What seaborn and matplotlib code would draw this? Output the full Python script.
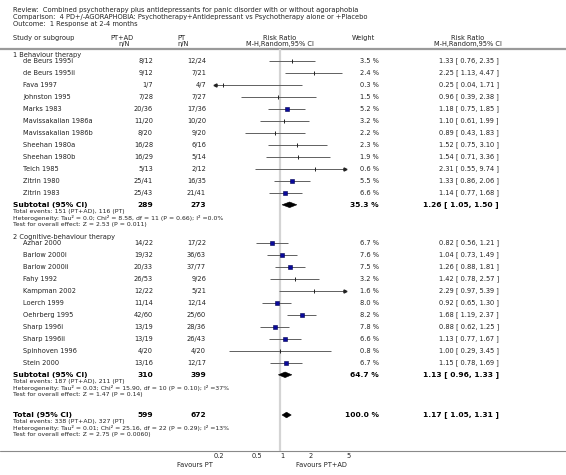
import matplotlib
matplotlib.use("Agg")
import matplotlib.pyplot as plt
import seaborn as sns
import numpy as np
import pandas as pd

## --- data
title_lines = [
    "Review:  Combined psychotherapy plus antidepressants for panic disorder with or without agoraphobia",
    "Comparison:  4 PD+/-AGORAPHOBIA: Psychotherapy+Antidepressant vs Psychotherapy alone or +Placebo",
    "Outcome:  1 Response at 2-4 months",
]

group_names = ["1 Behaviour therapy", "2 Cognitive-behaviour therapy"]

studies_1 = ["de Beurs 1995i", "de Beurs 1995ii", "Fava 1997", "Johnston 1995", "Marks 1983",
             "Mavissakalian 1986a", "Mavissakalian 1986b", "Sheehan 1980a", "Sheehan 1980b",
             "Teich 1985", "Zitrin 1980", "Zitrin 1983"]
trt_1 = ["8/12", "9/12", "1/7", "7/28", "20/36", "11/20", "8/20", "16/28", "16/29", "5/13", "25/41", "25/43"]
ctl_1 = ["12/24", "7/21", "4/7", "7/27", "17/36", "10/20", "9/20", "6/16", "5/14", "2/12", "16/35", "21/41"]
weight_1 = [3.5, 2.4, 0.3, 1.5, 5.2, 3.2, 2.2, 2.3, 1.9, 0.6, 5.5, 6.6]
rr_1 = [1.33, 2.25, 0.25, 0.96, 1.18, 1.10, 0.89, 1.52, 1.54, 2.31, 1.33, 1.14]
lo_1 = [0.76, 1.13, 0.04, 0.39, 0.75, 0.61, 0.43, 0.75, 0.71, 0.55, 0.86, 0.77]
hi_1 = [2.35, 4.47, 1.71, 2.38, 1.85, 1.99, 1.83, 3.10, 3.36, 9.74, 2.06, 1.68]

studies_2 = ["Azhar 2000", "Barlow 2000i", "Barlow 2000ii", "Fahy 1992", "Kampman 2002", "Loerch 1999",
             "Oehrberg 1995", "Sharp 1996i", "Sharp 1996ii", "Spinhoven 1996", "Stein 2000"]
trt_2 = ["14/22", "19/32", "20/33", "26/53", "12/22", "11/14", "42/60", "13/19", "13/19", "4/20", "13/16"]
ctl_2 = ["17/22", "36/63", "37/77", "9/26", "5/21", "12/14", "25/60", "28/36", "26/43", "4/20", "12/17"]
weight_2 = [6.7, 7.6, 7.5, 3.2, 1.6, 8.0, 8.2, 7.8, 6.6, 0.8, 6.7]
rr_2 = [0.82, 1.04, 1.26, 1.42, 2.29, 0.92, 1.68, 0.88, 1.13, 1.00, 1.15]
lo_2 = [0.56, 0.73, 0.88, 0.78, 0.97, 0.65, 1.19, 0.62, 0.77, 0.29, 0.78]
hi_2 = [1.21, 1.49, 1.81, 2.57, 5.39, 1.30, 2.37, 1.25, 1.67, 3.45, 1.69]

# subtotal 1, subtotal 2, overall
pooled_label = ["Subtotal (95% CI)", "Subtotal (95% CI)", "Total (95% CI)"]
pooled_trt = ["289", "310", "599"]
pooled_ctl = ["273", "399", "672"]
pooled_weight = [35.3, 64.7, 100.0]
pooled_rr = [1.26, 1.13, 1.17]
pooled_lo = [1.05, 0.96, 1.05]
pooled_hi = [1.50, 1.33, 1.31]
pooled_notes = [
    ["Total events: 151 (PT+AD), 116 (PT)",
     "Heterogeneity: Tau\u00b2 = 0.0; Chi\u00b2 = 8.58, df = 11 (P = 0.66); I\u00b2 =0.0%",
     "Test for overall effect: Z = 2.53 (P = 0.011)"],
    ["Total events: 187 (PT+AD), 211 (PT)",
     "Heterogeneity: Tau\u00b2 = 0.03; Chi\u00b2 = 15.90, df = 10 (P = 0.10); I\u00b2 =37%",
     "Test for overall effect: Z = 1.47 (P = 0.14)"],
    ["Total events: 338 (PT+AD), 327 (PT)",
     "Heterogeneity: Tau\u00b2 = 0.01; Chi\u00b2 = 25.16, df = 22 (P = 0.29); I\u00b2 =13%",
     "Test for overall effect: Z = 2.75 (P = 0.0060)"],
]

x_ticks = [0.2, 0.5, 1, 2, 5]
x_ticklabels = ["0.2", "0.5", "1", "2", "5"]

## --- layout (pixels, y down)
W, H = 566, 475
ROW = 12.0
X_LO, X_HI = 0.2, 5.0
PX_LO, PX_HI = 213.5, 346.6
AXIS_Y = 451
TXT = "#222222"
FS = 4.8
FSB = 5.4

sns.set_style("white")
plt.rcParams['font.family'] = ['DejaVu Sans']

fig = plt.figure(figsize=(W / 100, H / 100), dpi=100)
ax_t = fig.add_axes([0, 0, 1, 1])
ax_t.set_xlim(0, W)
ax_t.set_ylim(H, 0)
ax_t.axis("off")

ax_f = fig.add_axes([PX_LO / W, (H - AXIS_Y) / H, (PX_HI - PX_LO) / W, AXIS_Y / H])
ax_f.set_xscale("log")
ax_f.set_xlim(X_LO, X_HI)
ax_f.set_ylim(AXIS_Y, 0)
ax_f.patch.set_alpha(0)
for s in ["top", "left", "right", "bottom"]:
    ax_f.spines[s].set_visible(False)
ax_f.set_yticks([])
ax_f.set_xticks(x_ticks)
ax_f.set_xticklabels(x_ticklabels)
ax_f.xaxis.set_minor_locator(matplotlib.ticker.NullLocator())
ax_f.tick_params(axis="x", direction="in", length=3, width=0.6, color="#555555",
                 labelsize=FS, labelcolor=TXT, pad=1.5)
for lbl in ax_f.get_xticklabels():
    lbl.set_ha("left")

# header
for i, line in enumerate(title_lines):
    ax_t.text(13, 10 + i * 6.8, line, fontsize=FS, color=TXT, va="center")
ax_t.text(13, 38, "Study or subgroup", fontsize=FS, color=TXT, va="center")
ax_t.text(110, 38, "PT+AD", fontsize=FS, color=TXT, va="center")
ax_t.text(130, 44, "n/N", fontsize=FS, color=TXT, va="center", ha="right")
ax_t.text(177, 38, "PT", fontsize=FS, color=TXT, va="center")
ax_t.text(177, 44, "n/N", fontsize=FS, color=TXT, va="center")
ax_t.text(280, 38, "Risk Ratio", fontsize=FS, color=TXT, va="center", ha="center")
ax_t.text(280, 44, "M-H,Random,95% CI", fontsize=FS, color=TXT, va="center", ha="center")
ax_t.text(352, 38, "Weight", fontsize=FS, color=TXT, va="center")
ax_t.text(468, 38, "Risk Ratio", fontsize=FS, color=TXT, va="center", ha="center")
ax_t.text(468, 44, "M-H,Random,95% CI", fontsize=FS, color=TXT, va="center", ha="center")
ax_t.axhline(49, color="#9a9a9a", lw=1.6)
ax_t.axhline(AXIS_Y, color="#8a8a8a", lw=0.8)

# reference line at RR = 1
ax_f.vlines(1, 49, AXIS_Y, color="#d4d4d4", lw=1.6, zorder=0)


def draw_study(y, name, trt, ctl, w, rr, lo, hi):
    ax_t.text(23, y, name, fontsize=FS, color=TXT, va="center")
    ax_t.text(153, y, trt, fontsize=FS, color=TXT, va="center", ha="right")
    ax_t.text(206, y, ctl, fontsize=FS, color=TXT, va="center", ha="right")
    ax_t.text(379, y, f"{w:.1f} %", fontsize=FS, color=TXT, va="center", ha="right")
    ax_t.text(499, y, f"{rr:.2f} [ {lo:.2f}, {hi:.2f} ]", fontsize=FS, color=TXT,
              va="center", ha="right")
    lo_c, hi_c = max(lo, X_LO), min(hi, X_HI)
    ax_f.hlines(y, lo_c, hi_c, color="#606060", lw=0.7, zorder=2)
    if lo < X_LO:
        ax_f.plot(lo_c * 1.04, y, marker="<", ms=2.2, color="#222222", zorder=3, clip_on=False)
    if hi > X_HI:
        ax_f.plot(hi_c / 1.04, y, marker=">", ms=2.2, color="#222222", zorder=3, clip_on=False)


def draw_pooled(y, k):
    ax_t.text(13, y, pooled_label[k], fontsize=FSB, color="black", va="center", weight="bold")
    ax_t.text(153, y, pooled_trt[k], fontsize=FSB, color="black", va="center", ha="right", weight="bold")
    ax_t.text(206, y, pooled_ctl[k], fontsize=FSB, color="black", va="center", ha="right", weight="bold")
    ax_t.text(379, y, f"{pooled_weight[k]:.1f} %", fontsize=FSB, color="black", va="center",
              ha="right", weight="bold")
    ax_t.text(499, y, f"{pooled_rr[k]:.2f} [ {pooled_lo[k]:.2f}, {pooled_hi[k]:.2f} ]",
              fontsize=FSB, color="black", va="center", ha="right", weight="bold")
    ax_f.fill([pooled_lo[k], pooled_rr[k], pooled_hi[k], pooled_rr[k]],
              [y, y - 2.8, y, y + 2.8], color="black", lw=0.4, zorder=4)
    for j, note in enumerate(pooled_notes[k]):
        ax_t.text(13, y + 6.8 + j * 6.5, note, fontsize=FS - 0.4, color=TXT, va="center")


groups = [
    (studies_1, trt_1, ctl_1, weight_1, rr_1, lo_1, hi_1, 55),
    (studies_2, trt_2, ctl_2, weight_2, rr_2, lo_2, hi_2, 237),
]
square_rows = []
for g, (names, trt, ctl, wts, rr, lo, hi, y0) in enumerate(groups):
    ax_t.text(13, y0, group_names[g], fontsize=FS, color=TXT, va="center")
    ys = y0 + 5.8 + ROW * np.arange(len(names))
    for i in range(len(names)):
        draw_study(ys[i], names[i], trt[i], ctl[i], wts[i], rr[i], lo[i], hi[i])
        square_rows.append({"y": ys[i], "rr": rr[i], "w": wts[i]})
    draw_pooled(ys[-1] + ROW, g)

draw_pooled(415, 2)

# point estimates: big weights as blue squares, small as ticks
sq = pd.DataFrame(square_rows)
big = sq[sq["w"] >= 4]
small = sq[sq["w"] < 4]
for _, r in big.iterrows():
    side = 1.55 * np.sqrt(r["w"]) * 0.72
    ax_f.plot(r["rr"], r["y"], marker="s", ms=side, mfc="#0a0a9c", mec="#000050", mew=0.4, zorder=5)
sns.scatterplot(data=small, x="rr", y="y", marker="|", s=6, color="#222222",
                linewidth=0.7, ax=ax_f, zorder=5, legend=False)
ax_f.set_xlabel("")
ax_f.set_ylabel("")
ax_f.set_ylim(AXIS_Y, 0)

ax_t.text(213, 465, "Favours PT", fontsize=FS, color=TXT, va="center", ha="right")
ax_t.text(347, 465, "Favours PT+AD", fontsize=FS, color=TXT, va="center", ha="right")

fig.savefig("out.png", dpi=100)
